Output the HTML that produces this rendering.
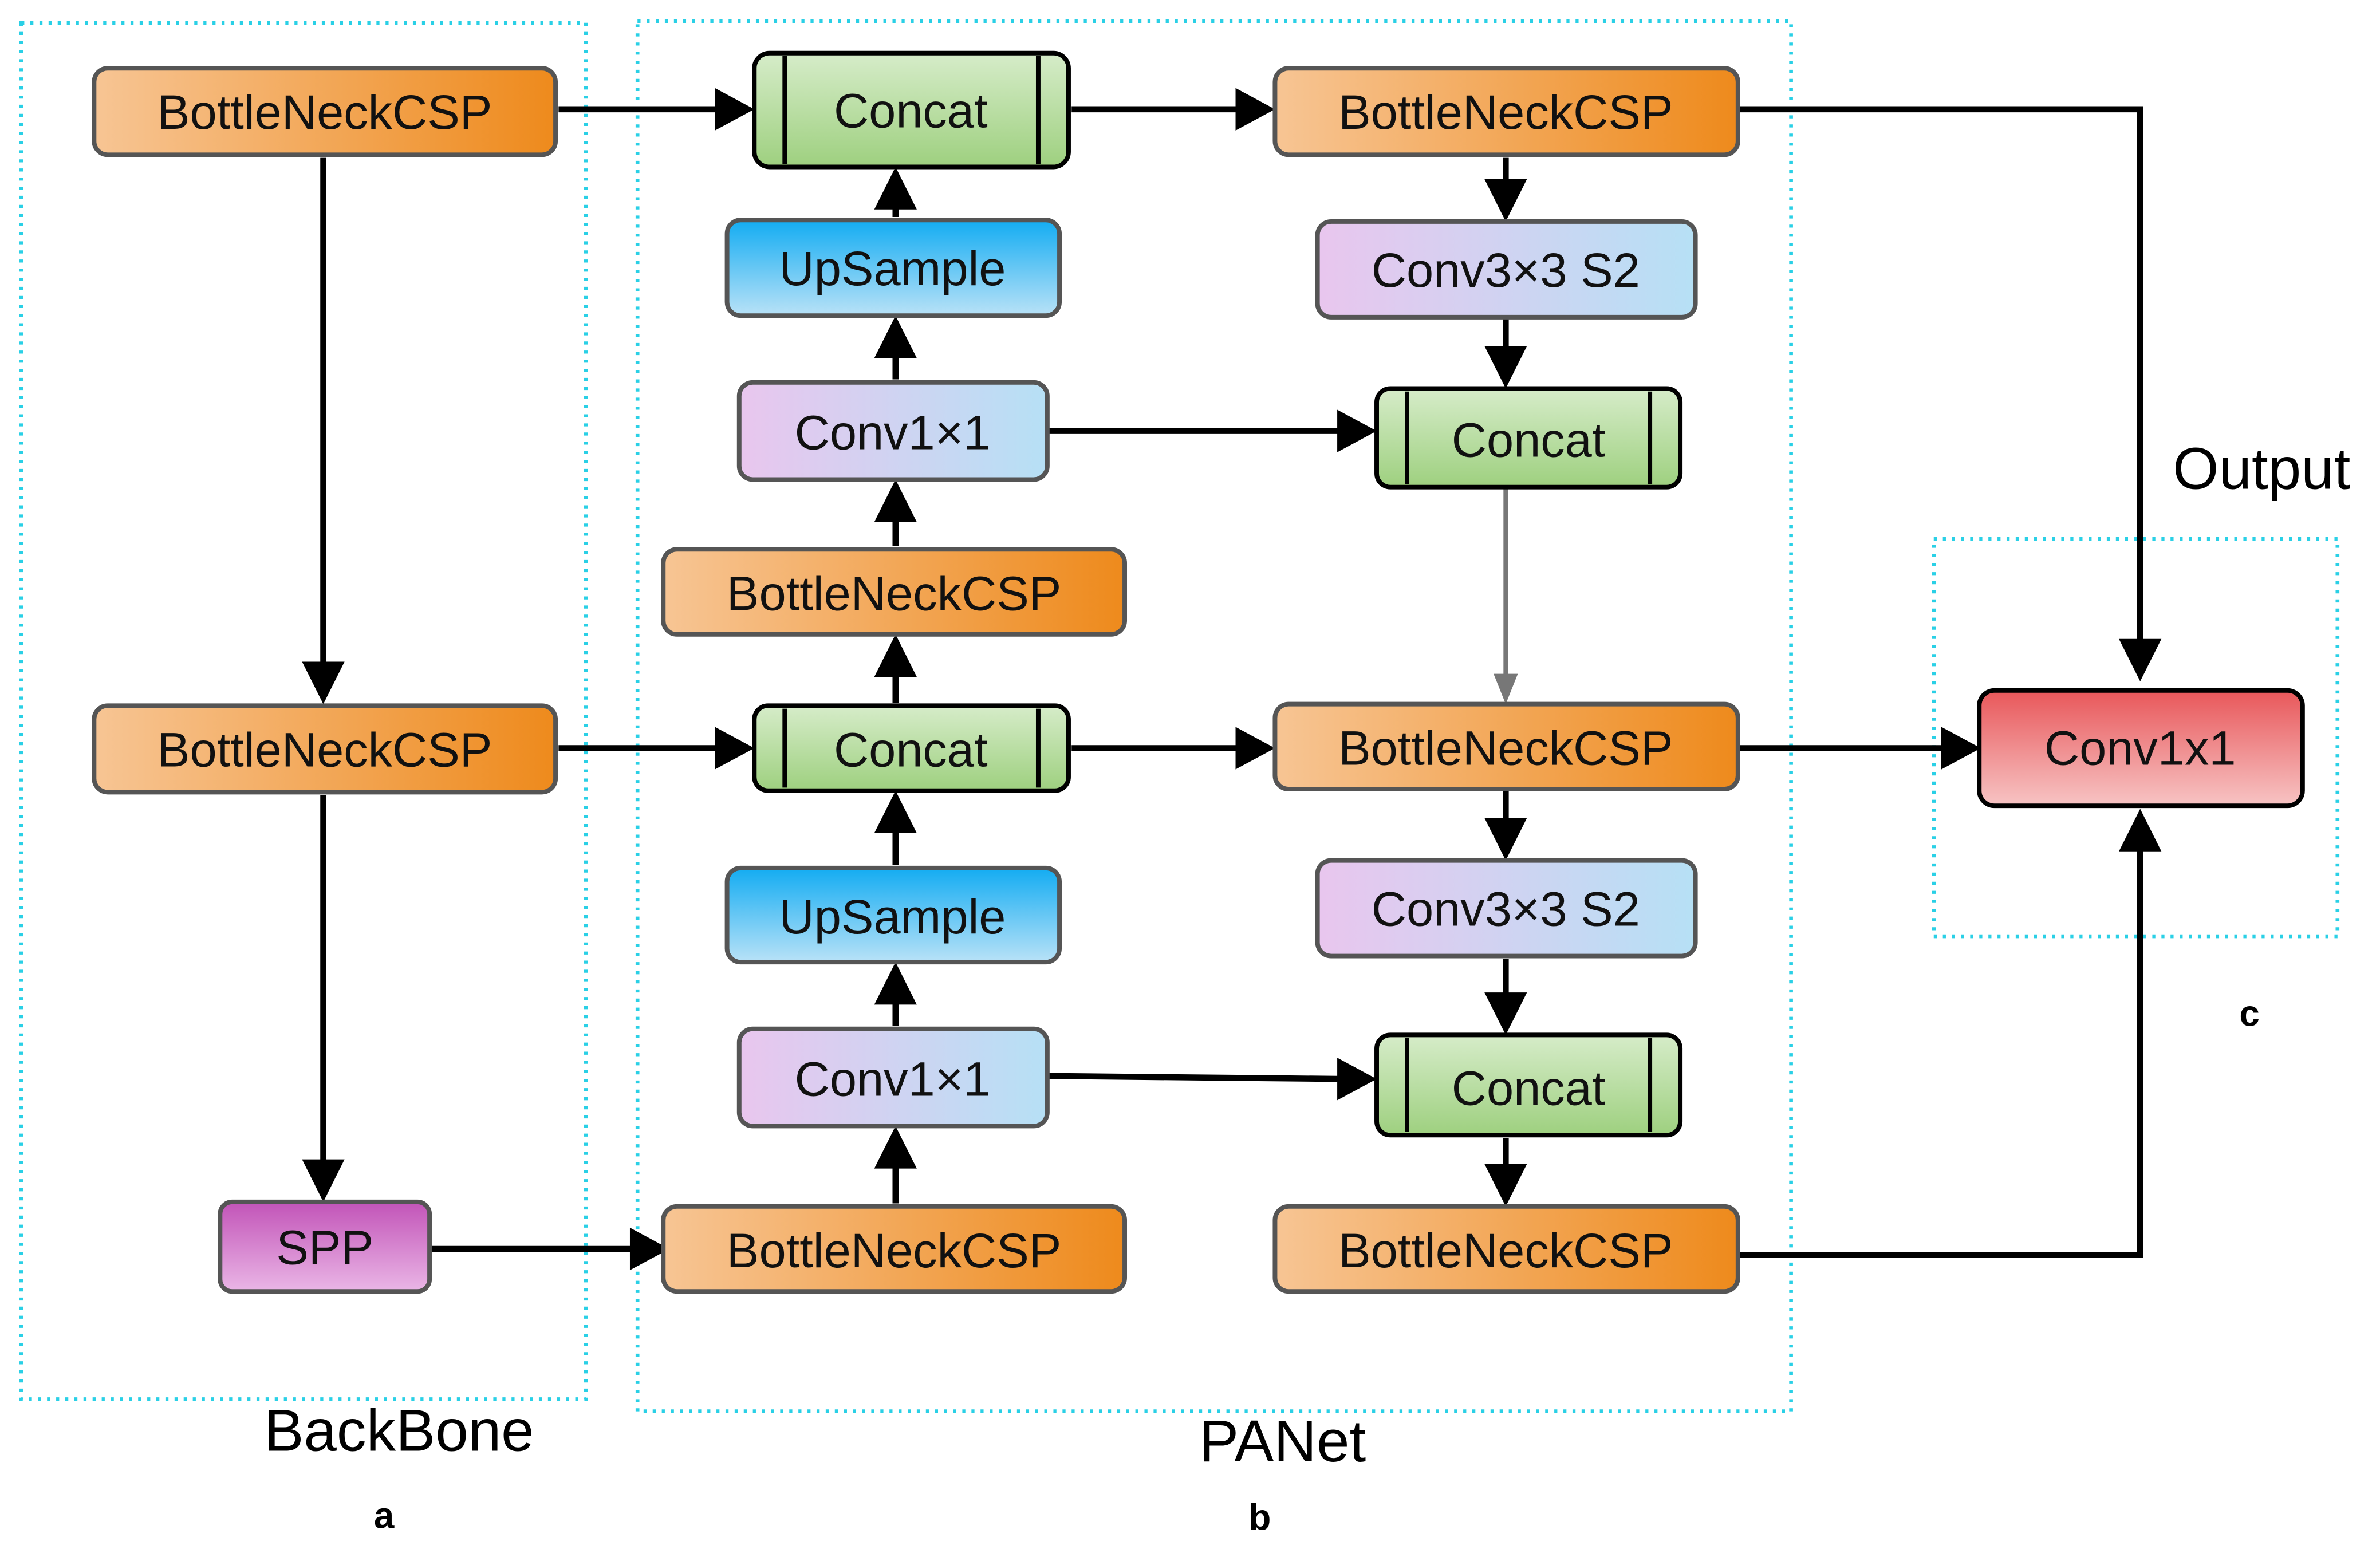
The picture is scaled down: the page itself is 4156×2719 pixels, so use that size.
<!DOCTYPE html>
<html><head><meta charset="utf-8"><style>html,body{margin:0;padding:0;background:#fff}svg{display:block}</style></head><body>
<svg width="4156" height="2719" viewBox="0 0 1568 1026" preserveAspectRatio="none" xmlns="http://www.w3.org/2000/svg" font-family="Liberation Sans, sans-serif">
<defs>
<linearGradient id="or" x1="0" y1="0" x2="1" y2="0"><stop offset="0" stop-color="#f7c594"/><stop offset="1" stop-color="#ee8a1c"/></linearGradient>
<linearGradient id="gr" x1="0" y1="0" x2="0" y2="1"><stop offset="0" stop-color="#d6ecc9"/><stop offset="1" stop-color="#9ed07f"/></linearGradient>
<linearGradient id="bl" x1="0" y1="0" x2="0" y2="1"><stop offset="0" stop-color="#13acf2"/><stop offset="1" stop-color="#b9e2f7"/></linearGradient>
<linearGradient id="pu" x1="0" y1="0" x2="1" y2="0"><stop offset="0" stop-color="#e9c6ee"/><stop offset="1" stop-color="#b6e0f5"/></linearGradient>
<linearGradient id="mg" x1="0" y1="0" x2="0" y2="1"><stop offset="0" stop-color="#c254b8"/><stop offset="1" stop-color="#eab6e6"/></linearGradient>
<linearGradient id="rd" x1="0" y1="0" x2="0" y2="1"><stop offset="0" stop-color="#e8575a"/><stop offset="1" stop-color="#f7c4c4"/></linearGradient>
</defs>
<g fill="none" stroke="#2ad0e6" stroke-width="2.5" stroke-dasharray="2,4">
<rect x="14" y="15" width="372" height="907"/>
<rect x="420" y="14" width="760" height="916"/>
<rect x="1274" y="355" width="266" height="262"/>
</g>
<g stroke="#000" stroke-width="4" fill="none">
<path d="M368,72 H475"/><path d="M706,72 H818"/><path d="M1145,72 H1410 V425"/>
<path d="M213,104 V440"/><path d="M213,524 V768"/><path d="M283,823 H418"/>
<path d="M368,493 H475"/><path d="M706,493 H818"/><path d="M1145,493 H1282"/>
<path d="M1145,827 H1410 V558"/>
<path d="M590,143 V116"/><path d="M590,250 V214"/><path d="M590,360 V322"/><path d="M590,463 V424"/>
<path d="M590,570 V527"/><path d="M590,676 V640"/><path d="M590,793 V748"/>
<path d="M690,284 H885"/><path d="M690,709 L885,711"/>
<path d="M992,104 V124"/><path d="M992,210 V234"/><path d="M992,632 V659"/><path d="M992,750 V772"/>
<path d="M992,518 V545"/>
</g>
<path d="M992,322 V445" stroke="#777" stroke-width="3"/>
<g fill="#000">
<path d="M497,72 l-26,-14 v28 z"/><path d="M840,72 l-26,-14 v28 z"/><path d="M1410,449 l-14,-28 h28 z"/>
<path d="M213,464 l-14,-28 h28 z"/><path d="M213,792 l-14,-28 h28 z"/><path d="M441,823 l-26,-14 v28 z"/>
<path d="M497,493 l-26,-14 v28 z"/><path d="M840,493 l-26,-14 v28 z"/><path d="M1305,493 l-26,-14 v28 z"/>
<path d="M1410,533 l-14,28 h28 z"/>
<path d="M590,110 l-14,28 h28 z"/><path d="M590,208 l-14,28 h28 z"/><path d="M590,316 l-14,28 h28 z"/><path d="M590,418 l-14,28 h28 z"/>
<path d="M590,521 l-14,28 h28 z"/><path d="M590,634 l-14,28 h28 z"/><path d="M590,742 l-14,28 h28 z"/>
<path d="M907,284 l-26,-14 v28 z"/><path d="M907,711 l-26,-14 v28 z"/>
<path d="M992,146 l-14,-28 h28 z"/><path d="M992,256 l-14,-28 h28 z"/><path d="M992,682 l-14,-28 h28 z"/><path d="M992,795 l-14,-28 h28 z"/><path d="M992,567 l-14,-28 h28 z"/>
<path d="M992,464 l-8,-20 h16 z" fill="#777"/>
</g>
<g stroke="#555" stroke-width="3">
<rect x="62" y="45" width="304" height="57" rx="9" fill="url(#or)"/>
<rect x="62" y="465" width="304" height="57" rx="9" fill="url(#or)"/>
<rect x="145" y="792" width="138" height="59" rx="8" fill="url(#mg)"/>
<rect x="479" y="145" width="219" height="63" rx="9" fill="url(#bl)"/>
<rect x="487" y="252" width="203" height="64" rx="9" fill="url(#pu)"/>
<rect x="437" y="362" width="304" height="56" rx="9" fill="url(#or)"/>
<rect x="479" y="572" width="219" height="62" rx="9" fill="url(#bl)"/>
<rect x="487" y="678" width="203" height="64" rx="9" fill="url(#pu)"/>
<rect x="437" y="795" width="304" height="56" rx="9" fill="url(#or)"/>
<rect x="840" y="45" width="305" height="57" rx="9" fill="url(#or)"/>
<rect x="868" y="146" width="249" height="63" rx="9" fill="url(#pu)"/>
<rect x="840" y="464" width="305" height="56" rx="9" fill="url(#or)"/>
<rect x="868" y="567" width="249" height="63" rx="9" fill="url(#pu)"/>
<rect x="840" y="795" width="305" height="56" rx="9" fill="url(#or)"/>
</g>
<g stroke="#000" stroke-width="3">
<rect x="497" y="35" width="207" height="75" rx="10" fill="url(#gr)"/><path d="M517,37 V108 M684,37 V108"/>
<rect x="497" y="465" width="207" height="56" rx="9" fill="url(#gr)"/><path d="M517,467 V519 M684,467 V519"/>
<rect x="907" y="256" width="200" height="65" rx="9" fill="url(#gr)"/><path d="M927,258 V319 M1087,258 V319"/>
<rect x="907" y="682" width="200" height="66" rx="9" fill="url(#gr)"/><path d="M927,684 V746 M1087,684 V746"/>
<rect x="1304" y="455" width="213" height="76" rx="10" fill="url(#rd)"/>
</g>
<g font-size="32" fill="#111" text-anchor="middle">
<text x="214" y="85">BottleNeckCSP</text>
<text x="214" y="505">BottleNeckCSP</text>
<text x="214" y="833">SPP</text>
<text x="600" y="84">Concat</text>
<text x="588" y="188">UpSample</text>
<text x="588" y="296">Conv1×1</text>
<text x="589" y="402">BottleNeckCSP</text>
<text x="600" y="505">Concat</text>
<text x="588" y="615">UpSample</text>
<text x="588" y="722">Conv1×1</text>
<text x="589" y="835">BottleNeckCSP</text>
<text x="992" y="85">BottleNeckCSP</text>
<text x="992" y="189">Conv3×3 S2</text>
<text x="1007" y="301">Concat</text>
<text x="992" y="504">BottleNeckCSP</text>
<text x="992" y="610">Conv3×3 S2</text>
<text x="1007" y="728">Concat</text>
<text x="992" y="835">BottleNeckCSP</text>
<text x="1410" y="504">Conv1x1</text>
</g>
<g font-size="39" fill="#000" text-anchor="middle">
<text x="263" y="956">BackBone</text>
<text x="845" y="963">PANet</text>
<text x="1490" y="322">Output</text>
</g>
<g font-size="24" font-weight="bold" fill="#000" text-anchor="middle">
<text x="253" y="1007">a</text><text x="830" y="1008">b</text><text x="1482" y="676">c</text>
</g>
</svg>
</body></html>
